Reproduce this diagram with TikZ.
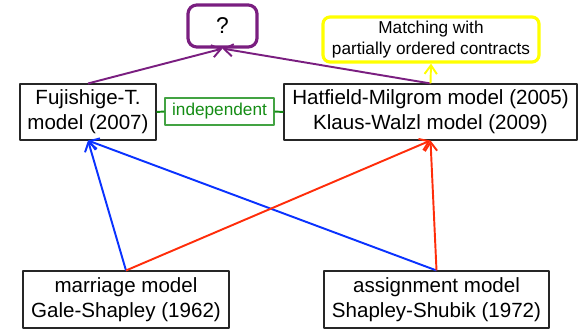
\documentclass[tikz,border=0pt]{standalone}
\usepackage{fontspec}
\setmainfont{Liberation Sans}
\usepackage{tikz}
\usetikzlibrary{arrows.meta}
\usetikzlibrary{positioning}
\definecolor{qpurple}{RGB}{122,30,128}
\definecolor{myellow}{RGB}{255,255,0}
\definecolor{ftblue}{RGB}{10,50,255}
\definecolor{hmred}{RGB}{255,45,10}
\definecolor{indgreen}{RGB}{20,140,20}

\begin{document}
\begin{tikzpicture}[x=0.02cm,y=-0.02cm,line join=round,>={Straight Barb[length=5pt,width=7pt]},
  model/.style={draw=black!85,line width=0.6pt,fill=white,align=center,inner sep=0pt,
    font=\fontsize{11.7}{14.2}\selectfont},
  note/.style={draw=myellow,line width=1.8pt,rounded corners=4pt,fill=white,align=center,
    inner sep=0pt,font=\fontsize{9.8}{11.9}\selectfont},
  link/.style={->,line width=1.1pt}]
\useasboundingbox (0,0) rectangle (581,331);

\node[draw=qpurple,line width=1.8pt,rounded corners=5pt,minimum width=69*0.02cm,
  minimum height=42*0.02cm,font=\fontsize{13}{15}\selectfont] (Q) at (222.5,26) {?};
\node[note,minimum width=216*0.02cm,minimum height=45*0.02cm] (poc) at (431,39.5)
  {Matching with\\partially ordered contracts};

\node[model,minimum width=136*0.02cm,minimum height=56*0.02cm] (FT) at (88,112)
  {Fujishige-T.\\model (2007)};
\node[model,minimum width=293*0.02cm,minimum height=56*0.02cm] (HM) at (430.5,112)
  {Hatfield-Milgrom model (2005)\\Klaus-Walzl model (2009)};
\node[draw=indgreen!80,line width=0.6pt,text=indgreen,inner sep=0pt,minimum width=109*0.02cm,
  minimum height=27*0.02cm,font=\fontsize{9.8}{11.9}\selectfont] (ind) at (219.5,111.5) {independent};

\node[model,minimum width=206*0.02cm,minimum height=57*0.02cm] (GS) at (126,299.5)
  {marriage model\\Gale-Shapley (1962)};
\node[model,minimum width=225*0.02cm,minimum height=57*0.02cm] (SS) at (436.5,299.5)
  {assignment model\\Shapley-Shubik (1972)};

\draw[indgreen,line width=1.1pt](FT.east)--(ind.west);
\draw[indgreen,line width=1.1pt](ind.east)--(HM.west);

\draw[link,qpurple](FT.north)--(Q.south);
\draw[link,qpurple](HM.north)--(Q.south);
\draw[link,myellow](HM.north)--(poc.south);

\draw[link,ftblue](GS.north)--(FT.south);
\draw[link,ftblue](SS.north)--(FT.south);
\draw[link,hmred](GS.north)--(HM.south);
\draw[link,hmred](SS.north)--(HM.south);
\end{tikzpicture}
\end{document}
